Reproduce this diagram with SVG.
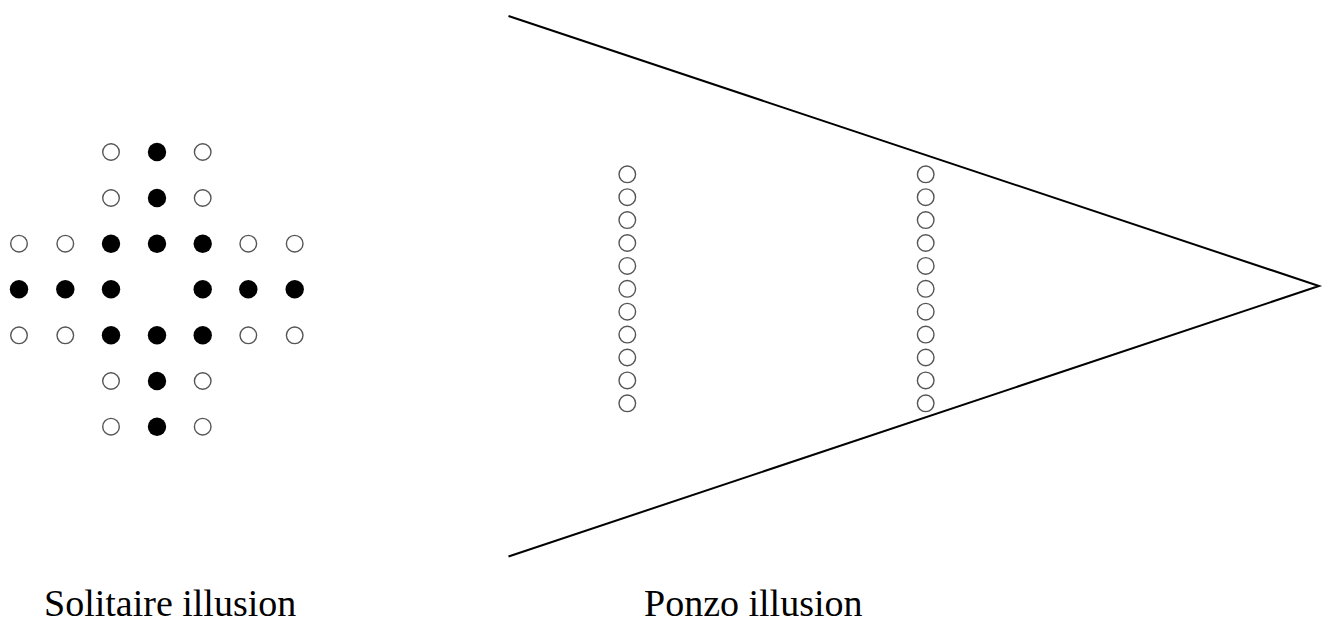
<svg xmlns="http://www.w3.org/2000/svg" width="1329" height="625" viewBox="0 0 1329 625">
<style>
.o{fill:#fff;stroke:#555;stroke-width:1.4}
.f{fill:#000}
.ln{stroke:#000;stroke-width:2;fill:none}
.t{font-family:"Liberation Serif",serif;font-size:38px;fill:#000}
</style>
<rect width="1329" height="625" fill="#fff"/>
<g id="solitaire">
<circle class="o" cx="111" cy="152" r="8.3"/><circle class="f" cx="157" cy="152" r="9.2"/><circle class="o" cx="202.7" cy="152" r="8.3"/>
<circle class="o" cx="111" cy="198" r="8.3"/><circle class="f" cx="157" cy="198" r="9.2"/><circle class="o" cx="202.7" cy="198" r="8.3"/>
<circle class="o" cx="19" cy="243.7" r="8.3"/><circle class="o" cx="65.3" cy="243.7" r="8.3"/><circle class="f" cx="111" cy="243.7" r="9.2"/><circle class="f" cx="157" cy="243.7" r="9.2"/><circle class="f" cx="202.7" cy="243.7" r="9.2"/><circle class="o" cx="248.3" cy="243.7" r="8.3"/><circle class="o" cx="294.7" cy="243.7" r="8.3"/>
<circle class="f" cx="19" cy="289.3" r="9.2"/><circle class="f" cx="65.3" cy="289.3" r="9.2"/><circle class="f" cx="111" cy="289.3" r="9.2"/><circle class="f" cx="202.7" cy="289.3" r="9.2"/><circle class="f" cx="248.3" cy="289.3" r="9.2"/><circle class="f" cx="294.7" cy="289.3" r="9.2"/>
<circle class="o" cx="19" cy="335.3" r="8.3"/><circle class="o" cx="65.3" cy="335.3" r="8.3"/><circle class="f" cx="111" cy="335.3" r="9.2"/><circle class="f" cx="157" cy="335.3" r="9.2"/><circle class="f" cx="202.7" cy="335.3" r="9.2"/><circle class="o" cx="248.3" cy="335.3" r="8.3"/><circle class="o" cx="294.7" cy="335.3" r="8.3"/>
<circle class="o" cx="111" cy="381" r="8.3"/><circle class="f" cx="157" cy="381" r="9.2"/><circle class="o" cx="202.7" cy="381" r="8.3"/>
<circle class="o" cx="111" cy="426.7" r="8.3"/><circle class="f" cx="157" cy="426.7" r="9.2"/><circle class="o" cx="202.7" cy="426.7" r="8.3"/>
</g>
<g id="ponzo-lines">
<polyline class="ln" points="508.5,16 1319,286 508.5,556.5"/>
</g>
<g id="ponzo-left">
<circle class="o" cx="627.3" cy="174.3" r="8.3"/><circle class="o" cx="627.3" cy="197.2" r="8.3"/><circle class="o" cx="627.3" cy="220.1" r="8.3"/><circle class="o" cx="627.3" cy="243" r="8.3"/><circle class="o" cx="627.3" cy="265.9" r="8.3"/><circle class="o" cx="627.3" cy="288.8" r="8.3"/><circle class="o" cx="627.3" cy="311.7" r="8.3"/><circle class="o" cx="627.3" cy="334.6" r="8.3"/><circle class="o" cx="627.3" cy="357.5" r="8.3"/><circle class="o" cx="627.3" cy="380.4" r="8.3"/><circle class="o" cx="627.3" cy="403.3" r="8.3"/>
</g>
<g id="ponzo-right">
<circle class="o" cx="925.7" cy="174.3" r="8.3"/><circle class="o" cx="925.7" cy="197.2" r="8.3"/><circle class="o" cx="925.7" cy="220.1" r="8.3"/><circle class="o" cx="925.7" cy="243" r="8.3"/><circle class="o" cx="925.7" cy="265.9" r="8.3"/><circle class="o" cx="925.7" cy="288.8" r="8.3"/><circle class="o" cx="925.7" cy="311.7" r="8.3"/><circle class="o" cx="925.7" cy="334.6" r="8.3"/><circle class="o" cx="925.7" cy="357.5" r="8.3"/><circle class="o" cx="925.7" cy="380.4" r="8.3"/><circle class="o" cx="925.7" cy="403.3" r="8.3"/>
</g>
<g id="labels">
<text class="t" x="44" y="616">Solitaire illusion</text>
<text class="t" x="644" y="616">Ponzo illusion</text>
</g>
</svg>
